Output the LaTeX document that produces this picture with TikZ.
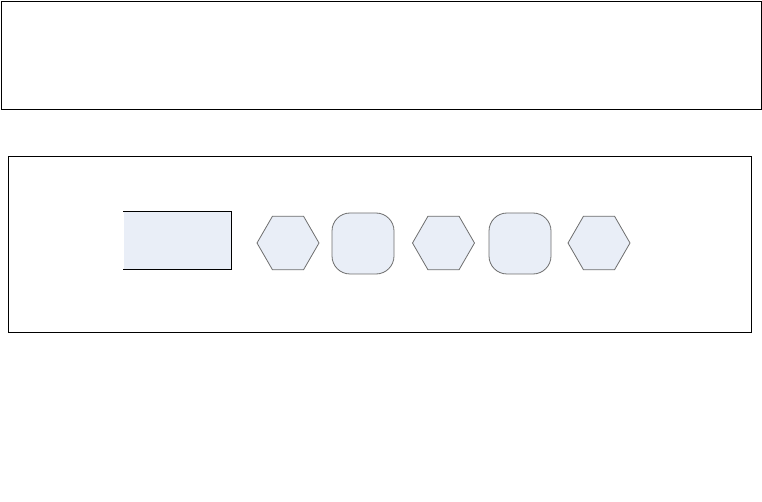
\documentclass[tikz,border=0pt]{standalone}
\usetikzlibrary{shapes.geometric}
\definecolor{shapefill}{HTML}{E9EEF7}
\definecolor{shapeline}{HTML}{6E6E6E}
\tikzset{
  frame/.style={draw=black, line width=0.9pt},
  hexa/.style={regular polygon, regular polygon sides=6, minimum size=62pt, inner sep=0pt, fill=shapefill, draw=shapeline, line width=0.8pt},
  rsq/.style={rectangle, rounded corners=18pt, minimum width=62pt, minimum height=61pt, inner sep=0pt, fill=shapefill, draw=shapeline, line width=0.8pt},
  bar/.style={rectangle, minimum width=108pt, minimum height=58pt, inner sep=0pt, fill=shapefill}
}
\begin{document}
\begin{tikzpicture}[x=1pt,y=-1pt]
\useasboundingbox (0,0) rectangle (762,502);
% top frame
\draw[frame] (1,1) rectangle (761,109);
% bottom frame
\draw[frame] (8.5,156.5) rectangle (751,332.5);
% rectangle with open left side
\node[bar] (r) at (177.5,240.5) {};
\draw[black, line width=1pt] (r.north west) -- (r.north east) -- (r.south east) -- (r.south west);
\node[hexa] (h1) at (288,243) {};
\node[rsq] (s1) at (363,243.5) {};
\node[hexa] (h2) at (443.5,243) {};
\node[rsq] (s2) at (520,243.5) {};
\node[hexa] (h3) at (599,243) {};
\end{tikzpicture}
\end{document}
